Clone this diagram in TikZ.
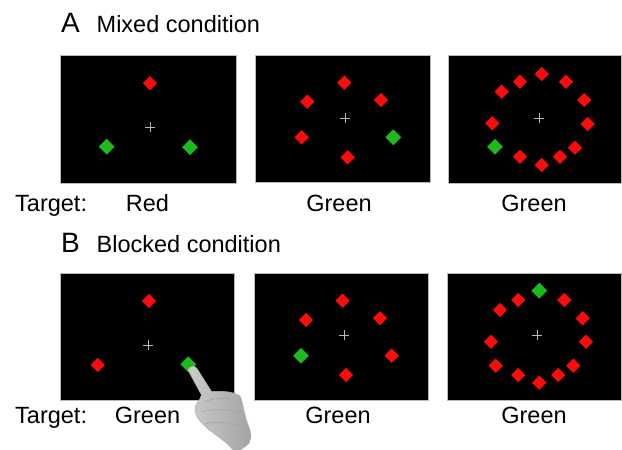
\documentclass[tikz,border=0pt]{standalone}
\usepackage{fontspec}
\setmainfont{Liberation Sans}
\usetikzlibrary{shapes.geometric}
\definecolor{stimred}{RGB}{250,12,12}
\definecolor{stimgreen}{RGB}{28,186,28}
\tikzset{
  screen/.style={fill=black, draw=gray!55, line width=0.8pt},
  dia/.style={shape=diamond, inner sep=0pt, minimum width=14.5pt, minimum height=14.5pt},
  rdia/.style={dia, fill=stimred},
  gdia/.style={dia, fill=stimgreen, minimum width=16pt, minimum height=16pt},
  fixcross/.style={draw=gray!55, line width=1pt},
}

\begin{document}
\begin{tikzpicture}[
  x=1pt, y=-1pt,
  panellbl/.style={font=\fontsize{28}{30}\selectfont, anchor=base west, inner sep=0pt},
  condlbl/.style={font=\fontsize{23.5}{26}\selectfont, anchor=base west, inner sep=0pt},
  tgtlbl/.style={font=\fontsize{23.5}{26}\selectfont, anchor=base, inner sep=0pt},
  handfill/.style={left color=gray!40, right color=gray!72, draw=gray!62, line width=0.5pt},
  handline/.style={draw=gray!75, line width=0.5pt},
]
  \useasboundingbox[fill=white] (0,0) rectangle (622,450);

  % panel headings
  \node[panellbl] (lblA) at (61,32.3) {A};
  \node[condlbl] (condA) at (96.5,32.3) {Mixed condition};
  \node[panellbl] (lblB) at (61,252.7) {B};
  \node[condlbl] (condB) at (96.5,252.7) {Blocked condition};

  % screens
  \foreach \xa/\ya/\xb/\yb in {60/55/236/183, 255/55/430/182, 448/55/621.5/183,
                               60/273/234/400, 254/273/428/400, 447/273/621.5/400}
    \draw[screen] (\xa,\ya) rectangle (\xb,\yb);

  % fixation crosses
  \foreach \cx/\cy in {150/127, 345/118, 539/118, 148/345, 344/335, 537/335}
    \draw[fixcross] (\cx-5,\cy) -- ++(10,0) (\cx,\cy-5) -- ++(0,10);

  % mixed condition
  \foreach \px/\py in {150/83.3,
                       344.3/82.7, 307.3/101.7, 381/100, 301.7/137.3, 347.7/157.3,
                       541.7/74, 520/81.7, 566/81.7, 501.7/91.7, 584.3/100, 492.3/123.3,
                       587.7/124, 520/156.7, 541.7/165, 560/156.7, 575/147.7}
    \node[rdia] at (\px,\py) {};
  \foreach \px/\py in {106.7/146.7, 190/147.3, 393.3/137.3, 495/146.7}
    \node[gdia] at (\px,\py) {};

  % blocked condition
  \foreach \px/\py in {149/301, 97.7/365,
                       342.7/300.7, 306/320, 380/318.3, 391.7/355.7, 346/375,
                       518.3/300, 564.3/300, 500/310, 582.7/318.3, 491/341.7, 586/341.7,
                       495.7/365.7, 518.3/375, 539.3/382.7, 558.3/375, 573.3/365.7}
    \node[rdia] at (\px,\py) {};
  \foreach \px/\py in {188.3/364.3, 301/355.7, 539.3/290.7}
    \node[gdia] at (\px,\py) {};

  % targets
  \node[condlbl] (tgtA) at (15,211.7) {Target:};
  \node[tgtlbl] (tgtA1) at (147.5,211.7) {Red};
  \node[tgtlbl] (tgtA2) at (339,211.7) {Green};
  \node[tgtlbl] (tgtA3) at (534,211.7) {Green};
  \node[condlbl] (tgtB) at (15,423.3) {Target:};
  \node[tgtlbl] (tgtB1) at (147.5,423.3) {Green};
  \node[tgtlbl] (tgtB2) at (338,423.3) {Green};
  \node[tgtlbl] (tgtB3) at (534,423.3) {Green};

  % pointing hand
  \path[handfill] (190.5,367) .. controls (193,365.5) and (196,366) .. (197,368.5)
    -- (211.5,391.5)
    .. controls (220,391) and (233,391) .. (240,396)
    .. controls (243,402) and (244,415) .. (248.5,426)
    .. controls (252,434) and (252,442) .. (246,446)
    -- (240,450) -- (233,450)
    .. controls (226,440) and (210,433) .. (200,421)
    .. controls (194,414) and (194,407) .. (197,403)
    .. controls (199,400) and (201,398) .. (201.5,395)
    -- (188.5,371)
    .. controls (188,369.5) and (189,368) .. (190.5,367) -- cycle;
  \draw[handline] (203,402) .. controls (212,399) and (222,397) .. (231,399);
  \draw[handline] (201,412) .. controls (212,409) and (225,409) .. (237,412);
  \draw[handline] (205,424) .. controls (215,421) and (228,422) .. (241,426);
\end{tikzpicture}
\end{document}
